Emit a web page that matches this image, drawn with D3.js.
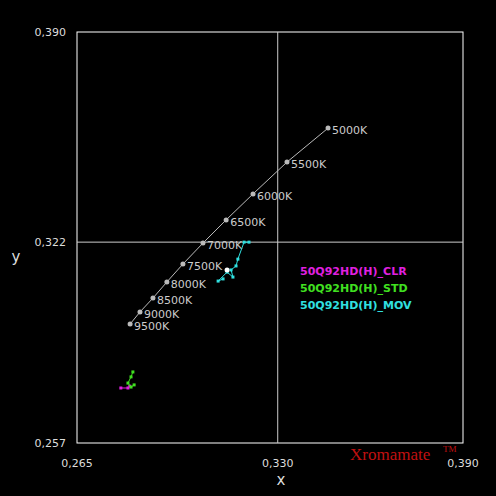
<!DOCTYPE html><html><head><script src="https://cdn.jsdelivr.net/npm/d3@7"></script>
<style>body{margin:0;background:#000}</style></head><body><script>
const xTicks=[0.265,0.330,0.390], yTicks=[0.257,0.322,0.390];
const tickLabels=["0,265","0,330","0,390"], yTickLabels=["0,257","0,322","0,390"];
const bbLabels=["5000K","5500K","6000K","6500K","7000K","7500K","8000K","8500K","9000K","9500K"];
const bbX=[0.3463,0.3330,0.3220,0.3133,0.3058,0.2993,0.2941,0.2896,0.2854,0.2822];
const bbY=[0.3589,0.3479,0.3376,0.3292,0.3217,0.3149,0.3091,0.3039,0.2994,0.2955];
const seriesNames=["50Q92HD(H)_CLR","50Q92HD(H)_STD","50Q92HD(H)_MOV"];
const clrX=[0.2792,0.2815,0.2821], clrY=[0.2748,0.2748,0.2754];
const stdX=[0.2831,0.2825,0.2815,0.2825,0.2835], stdY=[0.2800,0.2784,0.2764,0.2751,0.2758];
const movX=[0.3207,0.3191,0.3171,0.3165,0.3149,0.3155,0.3136,0.3107,0.3123], movY=[0.3220,0.3220,0.3165,0.3143,0.3130,0.3107,0.3123,0.3094,0.3101];
const colors=["#e020e0","#40e020","#30e0e0"];
const W=496,H=496;
const svg=d3.select("body").append("svg").attr("width",W).attr("height",H).style("background","#000");
const x=d3.scaleLinear().domain([0.265,0.390]).range([77,463]);
const y=d3.scaleLinear().domain([0.257,0.390]).range([443,32]);
svg.append("rect").attr("x",77).attr("y",32).attr("width",386).attr("height",411).attr("fill","none").attr("stroke","#fff");
svg.append("line").attr("x1",x(0.330)).attr("x2",x(0.330)).attr("y1",32).attr("y2",443).attr("stroke","#ccc");
svg.append("line").attr("x1",77).attr("x2",463).attr("y1",y(0.322)).attr("y2",y(0.322)).attr("stroke","#ccc");
const f="font-family:'DejaVu Sans',sans-serif";
xTicks.forEach((t,i)=>svg.append("text").attr("x",x(t)).attr("y",467).attr("text-anchor","middle").attr("fill","#ddd").attr("font-size",11).attr("style",f).text(tickLabels[i]));
yTicks.forEach((t,i)=>svg.append("text").attr("x",66).attr("y",y(t)+4).attr("text-anchor","end").attr("fill","#ddd").attr("font-size",11).attr("style",f).text(yTickLabels[i]));
svg.append("text").attr("x",281).attr("y",485).attr("text-anchor","middle").attr("fill","#ddd").attr("font-size",15).attr("style",f).text("x");
svg.append("text").attr("x",16).attr("y",262).attr("text-anchor","middle").attr("fill","#ddd").attr("font-size",15).attr("style",f).text("y");
const bb=bbX.map((v,i)=>[v,bbY[i]]);
const line=d3.line().x(d=>x(d[0])).y(d=>y(d[1]));
svg.append("path").attr("d",line(bb)).attr("fill","none").attr("stroke","#bbb");
bb.forEach((d,i)=>{svg.append("circle").attr("cx",x(d[0])).attr("cy",y(d[1])).attr("r",2.5).attr("fill","#bbb");
 svg.append("text").attr("x",x(d[0])+4).attr("y",y(d[1])+6).attr("fill","#ccc").attr("font-size",11).attr("style",f).text(bbLabels[i]);});
[[clrX,clrY],[stdX,stdY],[movX,movY]].forEach((s,k)=>{const pts=s[0].map((v,i)=>[v,s[1][i]]);
 svg.append("path").attr("d",line(pts)).attr("fill","none").attr("stroke",colors[k]);
 pts.forEach(d=>svg.append("rect").attr("x",x(d[0])-1.5).attr("y",y(d[1])-1.5).attr("width",3).attr("height",3).attr("fill",colors[k]));});
svg.append("circle").attr("cx",x(0.3136)).attr("cy",y(0.3130)).attr("r",2.5).attr("fill","#fff");
seriesNames.forEach((n,i)=>svg.append("text").attr("x",300).attr("y",275+i*17).attr("fill",colors[i]).attr("font-size",11).attr("font-weight","bold").attr("style",f).text(n));
svg.append("text").attr("x",350).attr("y",460).attr("fill","#c01010").attr("font-size",17).attr("font-family","Liberation Serif,serif").text("Xromamate");
svg.append("text").attr("x",443).attr("y",452).attr("fill","#c01010").attr("font-size",9).attr("font-family","Liberation Serif,serif").text("TM");
</script></body></html>
